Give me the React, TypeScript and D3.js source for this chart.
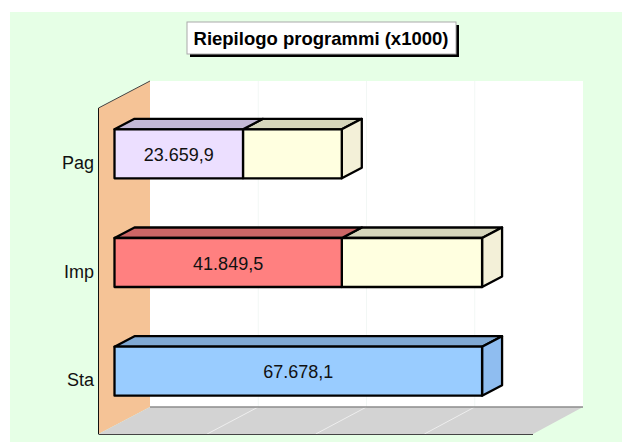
import React from "react";
import * as d3 from "d3";

const categories = ["Pag", "Imp", "Sta"];
// first stacked segment, carries the value label
const mainValues = [23659.9, 41849.5, 67678.1];
// pale remainder behind it
const restValues = [18189.6, 25828.6, 0];
const xTicks = [0, 20000, 40000, 60000, 80000];
const titleText = "Riepilogo programmi (x1000)";

const width = 622;
const height = 442;
const font = "'Liberation Sans', Arial, sans-serif";

// depth of the 3d effect
const wallDy = -27;
const barDx = 20;
const barDy = -10.5;
const barShiftX = 16;
const barShiftY = -8.5;
const barH = 49;

// front edge of the floor and the back wall have their own x range
const x = d3.scaleLinear().domain([0, 80000]).range([98.5, 533]);
const xBack = d3.scaleLinear().domain([0, 80000]).range([150, 583]);
const y = d3.scaleBand().domain(categories).range([108, 434]);

const mainFill = ["#ecdfff", "#ff8080", "#99ccff"];
const mainTop = ["#c3b8d5", "#cc6666", "#80a9d4"];
const mainSide = ["#ecdfff", "#e67373", "#8fbdf0"];
const restFill = "#ffffe0";
const restTop = "#d5d5bb";
const restSide = "#f3f0d8";

const fmt = (v: number) => d3.format(",.1f")(v).replace(/,/g, "#").replace(".", ",").replace(/#/g, ".");
const pts = (p: number[][]) => p.map((d) => d.join(",")).join(" ");

function Box({ x0, x1, yTop, front, top, side, showSide }: any) {
  const yBot = yTop + barH;
  const stroke = { stroke: "#000", strokeWidth: 2.3, strokeLinejoin: "round" as const };
  return (
    <g>
      <polygon fill={top} {...stroke} points={pts([[x0, yTop], [x0 + barDx, yTop + barDy], [x1 + barDx, yTop + barDy], [x1, yTop]])} />
      {showSide && (
        <polygon fill={side} {...stroke} points={pts([[x1, yTop], [x1 + barDx, yTop + barDy], [x1 + barDx, yBot + barDy], [x1, yBot]])} />
      )}
      <rect x={x0} y={yTop} width={x1 - x0} height={barH} fill={front} {...stroke} />
    </g>
  );
}

export default function App() {
  return (
    <svg width={width} height={height} style={{ position: "absolute", left: 0, top: 0 }}>
      <rect width={width} height={height} fill="#fff" />
      <rect x={10} y={12} width={width - 10} height={height - 12} fill="#e6ffe6" />

      {/* back wall, side wall, floor */}
      <rect x={xBack(0)} y={108 + wallDy} width={xBack(80000) - xBack(0)} height={326} fill="#fff" />
      <polygon
        fill="#f5c396"
        points={pts([[x(0), 108], [xBack(0), 108 + wallDy], [xBack(0), 434 + wallDy], [x(0), 434]])}
      />
      <polygon
        fill="#d3d3d3"
        points={pts([[x(0), 434], [xBack(0), 434 + wallDy], [xBack(80000), 434 + wallDy], [x(80000), 434]])}
      />
      {xTicks.slice(1, 4).map((t) => (
        <g key={t}>
          <line x1={xBack(t)} x2={xBack(t)} y1={108 + wallDy} y2={434 + wallDy} stroke="#f2f7f5" />
          <line x1={x(t)} x2={xBack(t)} y1={434} y2={434 + wallDy} stroke="#eeeeee" />
        </g>
      ))}
      <line x1={xBack(0)} x2={xBack(80000)} y1={434 + wallDy} y2={434 + wallDy} stroke="#8c8c8c" strokeWidth={1.5} />
      <line x1={x(0)} x2={x(80000)} y1={434.5} y2={434.5} stroke="#444" />
      <line x1={x(0)} x2={x(0)} y1={108} y2={434} stroke="#111" />
      <line x1={x(0)} x2={xBack(0)} y1={108} y2={108 + wallDy} stroke="#444" />

      {/* bars */}
      {categories.map((c, i) => {
        const yTop = y(c)! + y.bandwidth() / 2 + barShiftY - barH / 2;
        const x0 = x(0) + barShiftX;
        const xMain = x(mainValues[i]) + barShiftX;
        const xRest = x(mainValues[i] + restValues[i]) + barShiftX;
        const hasRest = restValues[i] > 0;
        return (
          <g key={c}>
            {hasRest && (
              <Box x0={xMain} x1={xRest} yTop={yTop} front={restFill} top={restTop} side={restSide} showSide />
            )}
            <Box x0={x0} x1={xMain} yTop={yTop} front={mainFill[i]} top={mainTop[i]} side={mainSide[i]} showSide={!hasRest} />
            <text
              x={(x0 + xMain) / 2}
              y={yTop + barH / 2 + 1}
              dy="0.35em"
              textAnchor="middle"
              fontFamily={font}
              fontSize={18}
              fill="#111"
            >
              {fmt(mainValues[i])}
            </text>
            <text
              x={94}
              y={y(c)! + y.bandwidth() / 2 + 0.5}
              dy="0.35em"
              textAnchor="end"
              fontFamily={font}
              fontSize={18}
              fill="#111"
            >
              {c}
            </text>
          </g>
        );
      })}

      {/* title */}
      <rect x={190} y={25} width={269} height={32} fill="#000" />
      <rect x={187} y={22} width={269} height={32} fill="#fff" stroke="#aaa" />
      <text x={321} y={45} textAnchor="middle" fontFamily={font} fontSize={18.5} fontWeight="bold" fill="#000">
        {titleText}
      </text>
    </svg>
  );
}
